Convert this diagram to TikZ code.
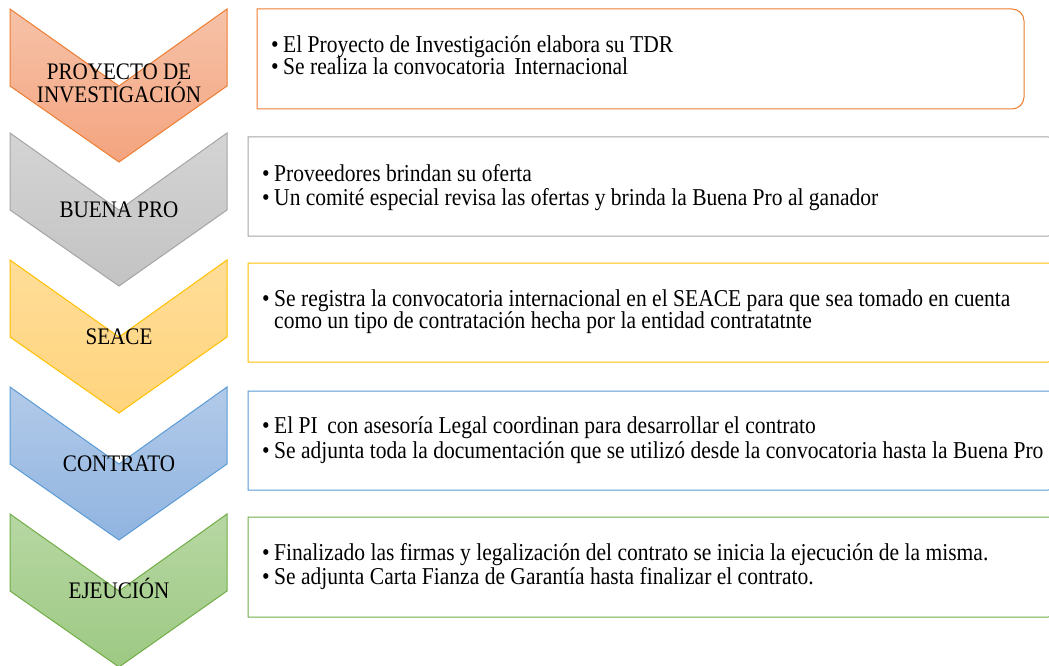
\documentclass[tikz,border=0pt]{standalone}
\usepackage{fontspec}
\setmainfont{Liberation Serif}[FakeStretch=0.89]
\definecolor{orB}{HTML}{ED7D31}\definecolor{orT}{HTML}{F6C2A8}\definecolor{orBo}{HTML}{F4A47F}
\definecolor{grB}{HTML}{A5A5A5}\definecolor{grT}{HTML}{D4D4D4}\definecolor{grBo}{HTML}{C3C3C3}
\definecolor{yeB}{HTML}{FFC000}\definecolor{yeT}{HTML}{FFDD98}\definecolor{yeBo}{HTML}{FFD47D}
\definecolor{blB}{HTML}{5B9BD5}\definecolor{blT}{HTML}{B2CAE9}\definecolor{blBo}{HTML}{90B4E0}
\definecolor{gnB}{HTML}{70AD47}\definecolor{gnT}{HTML}{B7D7A3}\definecolor{gnBo}{HTML}{9DC983}
\newcommand\mychev[4]{% top, border, topcolor, bottomcolor
  \path[draw=#2, line width=1pt, top color=#3, bottom color=#4]
    (10,#1) -- (119,#1+77) -- (227,#1) -- (227,#1+77) -- (119,#1+153) -- (10,#1+77) -- cycle;}
\newcommand\mybox[5]{% x0,y0,x1,y1,color
  \draw[line width=1pt, draw=#5] (#1,#2) -- (#3-12,#2) arc(-90:0:12) -- (#3,#4-12) arc(0:90:12) -- (#1,#4) -- cycle;}
\newcommand\bul{\makebox[12pt][l]{•}}
\begin{document}
\begin{tikzpicture}[x=1pt,y=-1pt,
  lab/.style={inner sep=0pt, anchor=base, font=\fontsize{23.7}{24}\selectfont},
  txt/.style={inner sep=0pt, anchor=base west, font=\fontsize{24.2}{24}\selectfont}]
\useasboundingbox[fill=white] (0,0) rectangle (1049,666);
% chevrons
\mychev{9}{orB}{orT}{orBo}
\mychev{133}{grB}{grT}{grBo}
\mychev{260}{yeB}{yeT}{yeBo}
\mychev{387}{blB}{blT}{blBo}
\mychev{514}{gnB}{gnT}{gnBo}
% boxes
\mybox{257}{9}{1024}{109}{orB}
\begin{scope}
\clip (0,0) rectangle (1049,666);
\mybox{248}{137}{1060}{236}{grB}
\mybox{248}{263}{1060}{362}{yeB}
\mybox{248}{391}{1060}{490}{blB}
\mybox{248}{517}{1060}{617}{gnB}
\end{scope}
% chevron labels
\node[lab] (c1a) at (119,80) {PROYECTO DE};
\node[lab] (c1b) at (119,103) {INVESTIGACIÓN};
\node[lab] (c2) at (119,217) {BUENA PRO};
\node[lab] (c3) at (119,344) {SEACE};
\node[lab] (c4) at (119,471) {CONTRATO};
\node[lab] (c5) at (119,598) {EJEUCIÓN};
% box texts
\node[txt] (t11) at (271,53) {\bul El Proyecto de Investigación elabora su TDR};
\node[txt] (t12) at (271,75) {\bul Se realiza la convocatoria\, Internacional};
\node[txt] (t21) at (262,181) {\bul Proveedores brindan su oferta};
\node[txt] (t22) at (262,205) {\bul Un comité especial revisa las ofertas y brinda la Buena Pro al ganador};
\node[txt] (t31) at (262,306) {\bul Se registra la convocatoria internacional en el SEACE para que sea tomado en cuenta};
\node[txt] (t32) at (262,328) {\hspace{12pt}como un tipo de contratación hecha por la entidad contratatnte};
\node[txt] (t41) at (262,433) {\bul El PI\, con asesoría Legal coordinan para desarrollar el contrato};
\node[txt] (t42) at (262,458) {\bul Se adjunta toda la documentación que se utilizó desde la convocatoria hasta la Buena Pro};
\node[txt] (t51) at (262,560) {\bul Finalizado las firmas y legalización del contrato se inicia la ejecución de la misma.};
\node[txt] (t52) at (262,584) {\bul Se adjunta Carta Fianza de Garantía hasta finalizar el contrato.};
\end{tikzpicture}
\end{document}
